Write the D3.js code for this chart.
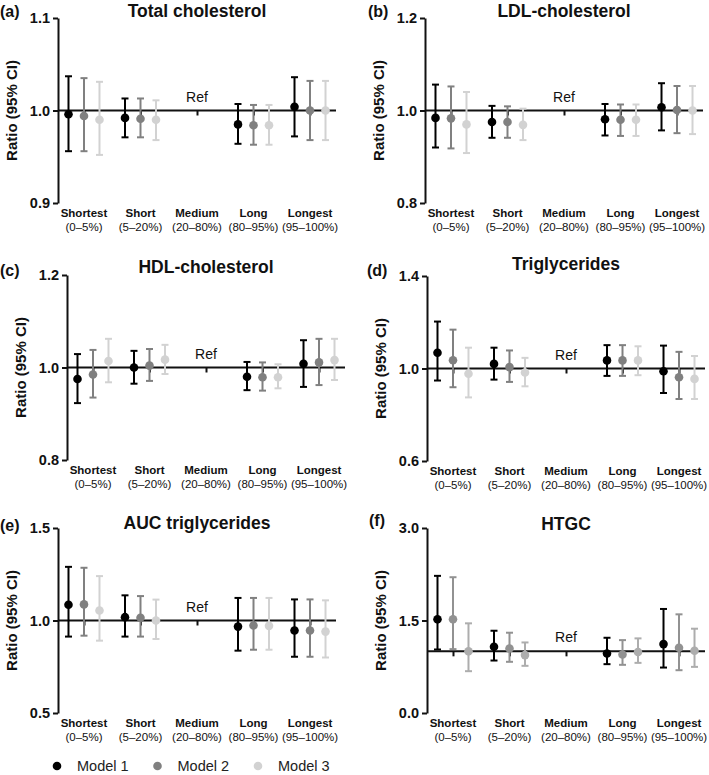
<!DOCTYPE html>
<html>
<head>
<meta charset="utf-8">
<script src="https://cdn.jsdelivr.net/npm/d3@7"></script>
<style>
  html, body { margin: 0; padding: 0; background: #fff; }
  svg { display: block; font-family: "Liberation Sans", Arial, Helvetica, sans-serif; }
</style>
</head>
<body>
<svg id="chart" width="709" height="775"></svg>
<script>
// ---------- DATA ----------
const categories = ["Shortest", "Short", "Medium", "Long", "Longest"];
const categoryRanges = ["(0–5%)", "(5–20%)", "(20–80%)", "(80–95%)", "(95–100%)"];
const models = ["Model 1", "Model 2", "Model 3"];
const panelTitles = ["Total cholesterol", "LDL-cholesterol", "HDL-cholesterol", "Triglycerides", "AUC triglycerides", "HTGC"];
const panelLetters = ["(a)", "(b)", "(c)", "(d)", "(e)", "(f)"];
const referenceCategory = "Medium";
const referenceValue = 1.0;

// y tick values per panel
const tcTicks = [0.9, 1.0, 1.1];
const ldlTicks = [0.8, 1.0, 1.2];
const hdlTicks = [0.8, 1.0, 1.2];
const tgTicks = [0.6, 1.0, 1.4];
const aucTicks = [0.5, 1.0, 1.5];
const htgcTicks = [0.0, 1.5, 3.0];

// estimates / lower / upper: rows = Model 1..3, columns = categories (Medium = reference)
const tcEst = [[0.996, 0.992, null, 0.985, 1.004], [0.994, 0.991, null, 0.984, 1.000], [0.990, 0.990, null, 0.984, 1.000]];
const tcLo  = [[0.956, 0.971, null, 0.964, 0.972], [0.956, 0.971, null, 0.963, 0.968], [0.952, 0.968, null, 0.963, 0.968]];
const tcHi  = [[1.037, 1.013, null, 1.007, 1.036], [1.035, 1.013, null, 1.006, 1.032], [1.031, 1.011, null, 1.006, 1.032]];

const ldlEst = [[0.984, 0.975, null, 0.981, 1.007], [0.983, 0.975, null, 0.980, 1.001], [0.970, 0.969, null, 0.980, 1.000]];
const ldlLo  = [[0.920, 0.941, null, 0.946, 0.957], [0.918, 0.941, null, 0.945, 0.951], [0.908, 0.936, null, 0.945, 0.949]];
const ldlHi  = [[1.056, 1.010, null, 1.014, 1.059], [1.052, 1.009, null, 1.013, 1.053], [1.040, 1.004, null, 1.013, 1.053]];

const hdlEst = [[0.975, 1.000, null, 0.980, 1.008], [0.985, 1.004, null, 0.979, 1.011], [1.014, 1.017, null, 0.979, 1.016]];
const hdlLo  = [[0.923, 0.965, null, 0.951, 0.958], [0.935, 0.971, null, 0.950, 0.962], [0.968, 0.986, null, 0.955, 0.973]];
const hdlHi  = [[1.029, 1.036, null, 1.012, 1.059], [1.038, 1.040, null, 1.011, 1.062], [1.062, 1.049, null, 1.007, 1.062]];

const tgEst = [[1.068, 1.020, null, 1.035, 0.988], [1.036, 1.006, null, 1.035, 0.962], [0.977, 0.983, null, 1.035, 0.955]];
const tgLo  = [[0.948, 0.952, null, 0.968, 0.894], [0.919, 0.942, null, 0.968, 0.868], [0.875, 0.923, null, 0.971, 0.868]];
const tgHi  = [[1.203, 1.090, null, 1.101, 1.099], [1.168, 1.078, null, 1.101, 1.072], [1.090, 1.046, null, 1.096, 1.054]];

const aucEst = [[1.085, 1.018, null, 0.967, 0.946], [1.087, 1.015, null, 0.973, 0.946], [1.054, 1.000, null, 0.971, 0.940]];
const aucLo  = [[0.913, 0.913, null, 0.837, 0.804], [0.918, 0.913, null, 0.842, 0.804], [0.891, 0.900, null, 0.842, 0.800]];
const aucHi  = [[1.290, 1.136, null, 1.122, 1.114], [1.285, 1.132, null, 1.122, 1.114], [1.240, 1.113, null, 1.122, 1.109]];

const htgcEst = [[1.519, 1.074, null, 0.965, 1.117], [1.519, 1.047, null, 0.949, 1.058], [1.000, 0.939, null, 0.990, 1.009]];
const htgcLo  = [[1.030, 0.851, null, 0.792, 0.737], [1.036, 0.830, null, 0.781, 0.694], [0.678, 0.765, null, 0.813, 0.748]];
const htgcHi  = [[2.224, 1.334, null, 1.220, 1.687], [2.202, 1.302, null, 1.182, 1.600], [1.454, 1.144, null, 1.210, 1.367]];

const modelColors = ["#000000", "#808080", "#d2d2d2"];
const htgcColors = ["#000000", "#929292", "#adadad"];

// ---------- LAYOUT ----------
const panels = [
  { est: tcEst,   lo: tcLo,   hi: tcHi,   ticks: tcTicks,   colors: modelColors, ax: 58,  top: 18,  ty: 17,  lx: 0,   ly: 17 },
  { est: ldlEst,  lo: ldlLo,  hi: ldlHi,  ticks: ldlTicks,  colors: modelColors, ax: 425, top: 18,  ty: 17,  lx: 368, ly: 17 },
  { est: hdlEst,  lo: hdlLo,  hi: hdlHi,  ticks: hdlTicks,  colors: modelColors, ax: 67,  top: 275, ty: 273, lx: 0,   ly: 276 },
  { est: tgEst,   lo: tgLo,   hi: tgHi,   ticks: tgTicks,   colors: modelColors, ax: 427, top: 276, ty: 270, lx: 367, ly: 276 },
  { est: aucEst,  lo: aucLo,  hi: aucHi,  ticks: aucTicks,  colors: modelColors, ax: 58,  top: 528, ty: 529, lx: 0,   ly: 531 },
  { est: htgcEst, lo: htgcLo, hi: htgcHi, ticks: htgcTicks, colors: htgcColors,  ax: 427, top: 528, ty: 530, lx: 369, ly: 526 }
];
const PW = 278, PH = 185;

const svg = d3.select("#chart");
svg.append("rect").attr("width", 709).attr("height", 775).attr("fill", "#fff");

panels.forEach((p, pi) => {
  const g = svg.append("g");
  const y = d3.scaleLinear()
    .domain([d3.min(p.ticks), d3.max(p.ticks)])
    .range([p.top + PH, p.top]);
  const x = d3.scalePoint().domain(categories).range([p.ax, p.ax + PW]).padding(0.46);
  const xm = d3.scalePoint().domain(models).range([-15.5, 15.5]);
  const fmt = d3.format(".1f");

  // y axis
  const yAxis = g.append("g")
    .attr("transform", `translate(${p.ax},0)`)
    .call(d3.axisLeft(y).tickValues(p.ticks).tickFormat(fmt).tickSize(5).tickSizeOuter(0));
  yAxis.select(".domain").attr("stroke", "#111").attr("stroke-width", 2);
  yAxis.selectAll(".tick line").attr("stroke", "#111").attr("stroke-width", 2);
  yAxis.selectAll(".tick text")
    .attr("x", -8)
    .attr("fill", "#111")
    .style("font-size", "14.5px")
    .style("font-weight", "bold")
    .style("font-family", "'Liberation Sans', Arial, sans-serif");

  // reference line (x axis at ratio 1.0) with small ticks at category centers
  const xAxis = g.append("g")
    .attr("transform", `translate(0,${y(referenceValue)})`)
    .call(d3.axisBottom(x).tickSize(5).tickSizeOuter(0).tickFormat(""));
  xAxis.select(".domain").attr("stroke", "#111").attr("stroke-width", 2)
    .attr("d", `M${p.ax},0H${p.ax + PW}`);
  xAxis.selectAll(".tick line").attr("stroke", "#111").attr("stroke-width", 2);

  // category labels under the plot
  const labG = g.append("g");
  categories.forEach((c, ci) => {
    labG.append("text")
      .attr("x", x(c)).attr("y", p.top + PH + 14)
      .attr("text-anchor", "middle")
      .style("font-size", "11.5px").style("font-weight", "bold")
      .attr("fill", "#111")
      .text(c);
    labG.append("text")
      .attr("x", x(c)).attr("y", p.top + PH + 28)
      .attr("text-anchor", "middle")
      .style("font-size", "11.5px")
      .attr("fill", "#111")
      .text(categoryRanges[ci]);
  });

  // "Ref" label
  g.append("text")
    .attr("x", x(referenceCategory)).attr("y", y(referenceValue) - 9)
    .attr("text-anchor", "middle")
    .style("font-size", "14px")
    .attr("fill", "#111")
    .text("Ref");

  // error bars and points (draw Model 3 first so Model 1 sits on top)
  for (let mi = models.length - 1; mi >= 0; mi--) {
    const col = p.colors[mi];
    categories.forEach((c, ci) => {
      const e = p.est[mi][ci];
      if (e === null) return;
      const cx = x(c) + xm(models[mi]);
      const ylo = y(p.lo[mi][ci]), yhi = y(p.hi[mi][ci]);
      g.append("line").attr("x1", cx).attr("x2", cx).attr("y1", ylo).attr("y2", yhi)
        .attr("stroke", col).attr("stroke-width", 2);
      g.append("line").attr("x1", cx - 3.5).attr("x2", cx + 3.5).attr("y1", ylo).attr("y2", ylo)
        .attr("stroke", col).attr("stroke-width", 2);
      g.append("line").attr("x1", cx - 3.5).attr("x2", cx + 3.5).attr("y1", yhi).attr("y2", yhi)
        .attr("stroke", col).attr("stroke-width", 2);
      g.append("circle").attr("cx", cx).attr("cy", y(e)).attr("r", 4.3).attr("fill", col);
    });
  }

  // y axis title
  g.append("text")
    .attr("transform", `translate(${p.ax - 41},${p.top + PH / 2}) rotate(-90)`)
    .attr("text-anchor", "middle")
    .style("font-size", "15px").style("font-weight", "bold")
    .attr("fill", "#111")
    .text("Ratio (95% CI)");

  // panel title
  g.append("text")
    .attr("x", p.ax + PW / 2).attr("y", p.ty)
    .attr("text-anchor", "middle")
    .style("font-size", "17.5px").style("font-weight", "bold")
    .attr("fill", "#111")
    .text(panelTitles[pi]);

  // panel letter
  g.append("text")
    .attr("x", p.lx).attr("y", p.ly)
    .style("font-size", "16px").style("font-weight", "bold")
    .attr("fill", "#111")
    .text(panelLetters[pi]);
});

// ---------- LEGEND ----------
const legendX = d3.scalePoint().domain(models).range([57, 258]);
const leg = svg.append("g");
models.forEach((m, i) => {
  leg.append("circle").attr("cx", legendX(m)).attr("cy", 766).attr("r", 4.3).attr("fill", modelColors[i]);
  leg.append("text").attr("x", legendX(m) + 20).attr("y", 771)
    .style("font-size", "14.5px").attr("fill", "#222").text(m);
});
</script>
</body>
</html>
